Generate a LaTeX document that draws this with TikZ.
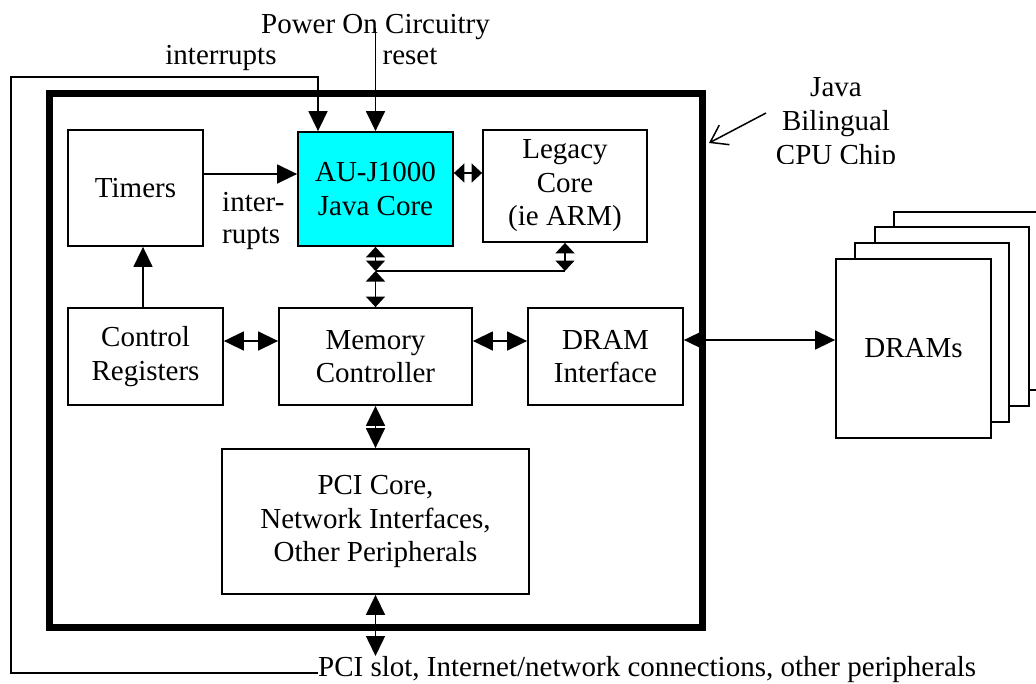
\documentclass[tikz,border=0pt]{standalone}
\usepackage{fontspec}
\setmainfont{Liberation Serif}
\usetikzlibrary{arrows.meta}
\definecolor{aucyan}{RGB}{0,255,255}
\newcommand\bigfs{\fontsize{29}{33.5}\selectfont}
\tikzset{
  box/.style={draw, line width=1.8pt, inner sep=0pt, align=center, font=\bigfs, fill=white},
  lbl/.style={inner sep=0pt, font=\bigfs},
  conn/.style={line width=1.5pt},
  big/.style={conn, -{Triangle[length=20pt,width=19pt]}},
  dbl/.style={conn, {Triangle[length=20pt,width=19pt]}-{Triangle[length=20pt,width=19pt]}},
  sdbl/.style={conn, {Triangle[length=10.5pt,width=19pt]}-{Triangle[length=10.5pt,width=19pt]}},
  barb/.style={conn, -{Straight Barb[length=16pt,width=22pt]}},
}
\begin{document}
\begin{tikzpicture}[x=1pt,y=-1pt]
\path[clip] (0,0) rectangle (1036,683);
% chip outline
\node[draw, line width=7pt, minimum width=653pt, minimum height=534pt, inner sep=0pt] (chip) at (375.5,360) {};
% blocks
\node[box, minimum width=135pt, minimum height=116pt] (timers) at (135.5,188) {Timers};
\node[box, fill=aucyan, minimum width=155pt, minimum height=114pt] (au) at (375.5,189) {AU-J1000\\Java Core};
\node[box, minimum width=164pt, minimum height=112pt] (legacy) at (565,186) {Legacy\\Core\\(ie ARM)};
\node[box, minimum width=155pt, minimum height=97pt] (ctrl) at (145.5,356.5) {Control\\Registers};
\node[box, minimum width=193pt, minimum height=97pt] (mem) at (375.5,356.5) {Memory\\Controller};
\node[box, minimum width=155pt, minimum height=97pt] (dramif) at (605.5,356.5) {DRAM\\Interface};
\node[box, minimum width=307pt, minimum height=145pt] (pci) at (375.5,521.5) {PCI Core,\\Network Interfaces,\\Other Peripherals};
% DRAM stack
\node[box, minimum width=154pt, minimum height=178pt] (d4) at (971,301) {};
\node[box, minimum width=154pt, minimum height=179pt] (d3) at (952,316.5) {};
\node[box, minimum width=154pt, minimum height=179pt] (d2) at (932,332.5) {};
\node[box, minimum width=155pt, minimum height=179pt] (d1) at (913.5,348.5) {DRAMs};
% labels
\node[lbl, anchor=base] (power) at (375.5,33) {Power On Circuitry};
\node[lbl, anchor=base] (intlab) at (221,64) {interrupts};
\node[lbl, anchor=base] (resetlab) at (410,64) {reset};
\node[lbl, anchor=base west] (inter) at (222,211) {inter-};
\node[lbl, anchor=base west] (rupts) at (222,243) {rupts};
\node[lbl, anchor=base west] (botlab) at (318,676) {PCI slot, Internet/network connections, other peripherals};
\begin{scope}
\clip (700,40) rectangle (1000,163);
\node[lbl, anchor=base] (java) at (836,96) {Java};
\node[lbl, anchor=base] (biling) at (836,130) {Bilingual};
\node[lbl, anchor=base] (cpuchip) at (836,164) {CPU Chip};
\end{scope}
% connectors
\coordinate (rs) at (375.5,28);
\draw[big] (rs) -- (au.north);
\draw[big] (botlab.west |- 0,673) -| (11,77) -| ([xshift=-57.5pt]au.north);
\draw[big] ([yshift=14pt]timers.east) -- ([yshift=14pt]timers.east -| au.west);
\draw[sdbl] ([yshift=16pt]au.east) -- ([yshift=16pt]au.east -| legacy.west);
\coordinate (bus1) at (375.5,271);
\coordinate (bus2) at (legacy.south |- bus1);
\draw[sdbl] (au.south) -- (bus1);
\draw[conn] (bus1) -- (bus2);
\draw[sdbl] (legacy.south) -- (bus2);
\draw[sdbl] (bus1) -- (mem.north);
\draw[dbl] ([yshift=15.5pt]ctrl.east) -- ([yshift=15.5pt]ctrl.east -| mem.west);
\draw[dbl] ([yshift=15.5pt]mem.east) -- ([yshift=15.5pt]mem.east -| dramif.west);
\draw[big] ([xshift=-2.5pt]ctrl.north) -- ([xshift=-2.5pt]ctrl.north |- timers.south);
\draw[dbl] (mem.south) -- (pci.north);
\draw[dbl] ([yshift=16.5pt]dramif.east) -- ([yshift=16.5pt]dramif.east -| d1.west);
\coordinate (pcout) at (375.5,656);
\draw[dbl] (pci.south) -- (pcout);
\coordinate (ja) at (766,113);
\draw[barb] (ja) -- ([xshift=3.5pt,yshift=217pt]chip.east);
\end{tikzpicture}
\end{document}
